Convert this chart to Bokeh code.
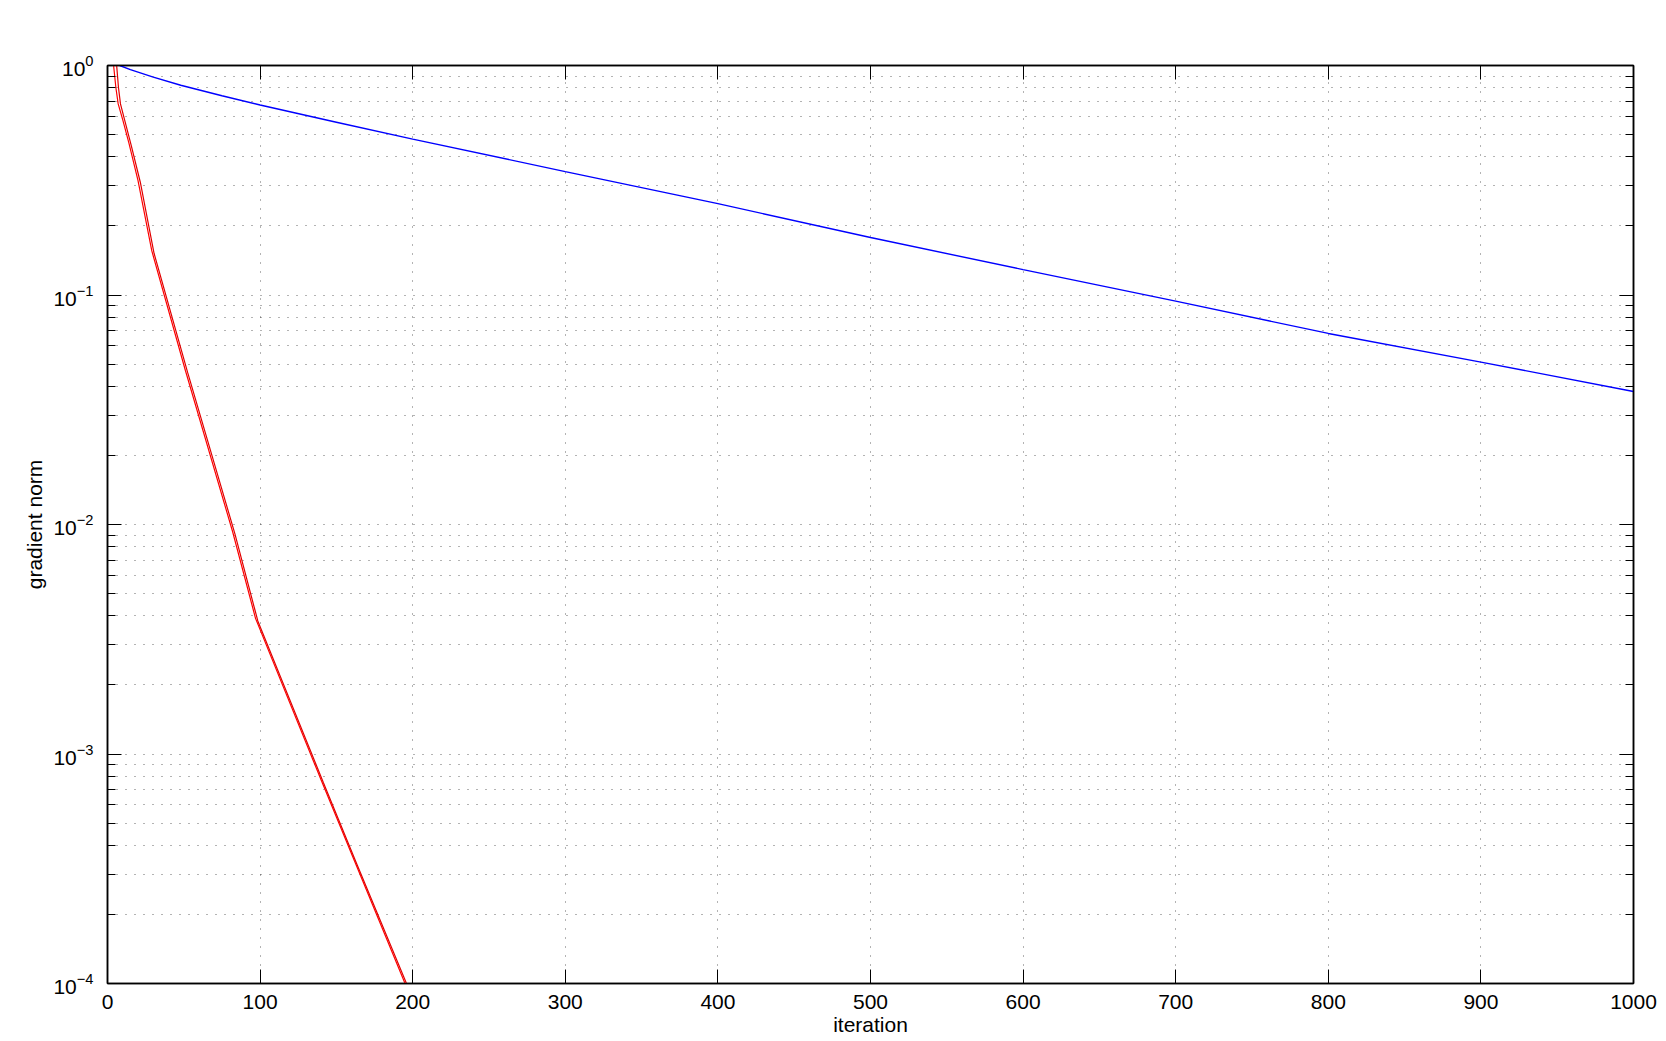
from bokeh.plotting import figure
from bokeh.models import LinearAxis, LogAxis, FixedTicker, LogTickFormatter, Range1d, CustomJSTickFormatter
from bokeh.embed import file_html
from bokeh.resources import INLINE

# ---- data ----
blue_x = [8, 15, 30, 48, 75, 100, 150, 200, 300, 400, 500, 600, 700, 800, 900, 1000]
blue_y = [1.0, 0.96, 0.89, 0.82, 0.738, 0.673, 0.566, 0.478, 0.345, 0.25, 0.178, 0.129, 0.094, 0.068, 0.051, 0.038]

red_a_x = [3, 4, 5.5, 7, 10, 14, 20, 29, 51, 82, 97, 140, 162, 195, 200]
red_a_y = [1.3, 1.0, 0.8, 0.68, 0.58, 0.46, 0.315, 0.156, 0.047, 0.0093, 0.0039, 7.7e-4, 3.4e-4, 1.0e-4, 8.3e-5]

red_b_x = [5, 6, 7.2, 8.5, 11.5, 15.5, 21.5, 30.5, 52.5, 83.5, 98.5, 141.5, 163.5, 196.5, 201.5]
red_b_y = [1.3, 1.0, 0.8, 0.68, 0.57, 0.45, 0.31, 0.152, 0.046, 0.0091, 0.0038, 7.5e-4, 3.3e-4, 9.8e-5, 8.1e-5]

x_ticks = [0, 100, 200, 300, 400, 500, 600, 700, 800, 900, 1000]
y_ticks = [1e-4, 1e-3, 1e-2, 1e-1, 1]
y_minor = [m * 10.0 ** e for e in (-4, -3, -2, -1) for m in (2, 3, 4, 5, 6, 7, 8, 9)]

FONT = "Liberation Sans"

p = figure(width=1658, height=1040, y_axis_type="log",
           x_range=Range1d(0, 1000), y_range=Range1d(1e-4, 1),
           output_backend="svg", toolbar_location=None,
           min_border_left=107, min_border_top=65, min_border_right=25, min_border_bottom=57,
           background_fill_color="white", border_fill_color="white")

p.outline_line_color = "black"
p.outline_line_width = 1.5

xt = FixedTicker(ticks=x_ticks, minor_ticks=[])
yt = FixedTicker(ticks=y_ticks, minor_ticks=y_minor)

def style_axis(ax):
    ax.axis_line_color = "black"
    ax.axis_line_width = 1.5
    ax.major_tick_in = 14
    ax.major_tick_out = 0
    ax.minor_tick_in = 8
    ax.minor_tick_out = 0
    ax.major_tick_line_color = "black"
    ax.minor_tick_line_color = "black"
    ax.major_label_text_font = FONT
    ax.major_label_text_font_size = "21px"
    ax.major_label_text_color = "black"
    ax.axis_label_text_font = FONT
    ax.axis_label_text_font_size = "21px"
    ax.axis_label_text_font_style = "normal"
    ax.axis_label_text_color = "black"

xa = p.xaxis[0]
xa.ticker = xt
style_axis(xa)
xa.major_label_standoff = 11
xa.axis_label = "iteration"
xa.axis_label_standoff = 1

ya = p.yaxis[0]
ya.ticker = yt
ya.formatter = LogTickFormatter()
style_axis(ya)
ya.major_label_standoff = 14
ya.axis_label = "gradient norm"
ya.axis_label_standoff = 4

top = LinearAxis(ticker=xt, formatter=CustomJSTickFormatter(code="return ''"))
style_axis(top)
top.major_label_standoff = 0
p.add_layout(top, "above")

right = LogAxis(ticker=yt, formatter=CustomJSTickFormatter(code="return ''"))
style_axis(right)
right.major_label_standoff = 0
p.add_layout(right, "right")

p.xgrid.ticker = xt
p.ygrid.ticker = yt
for g in (p.xgrid[0], p.ygrid[0]):
    g.grid_line_color = "black"
    g.grid_line_alpha = 0.6
    g.grid_line_dash = "1 8"
    g.grid_line_width = 1
p.ygrid[0].minor_grid_line_color = "black"
p.ygrid[0].minor_grid_line_alpha = 0.6
p.ygrid[0].minor_grid_line_dash = "1 8"

p.line(blue_x, blue_y, line_color="#0000ff", line_width=1.4)
p.line(red_a_x, red_a_y, line_color="#ff0000", line_width=1.2)
p.line(red_b_x, red_b_y, line_color="#e00000", line_width=1.2)

open("out.html", "w").write(file_html(p, INLINE))
